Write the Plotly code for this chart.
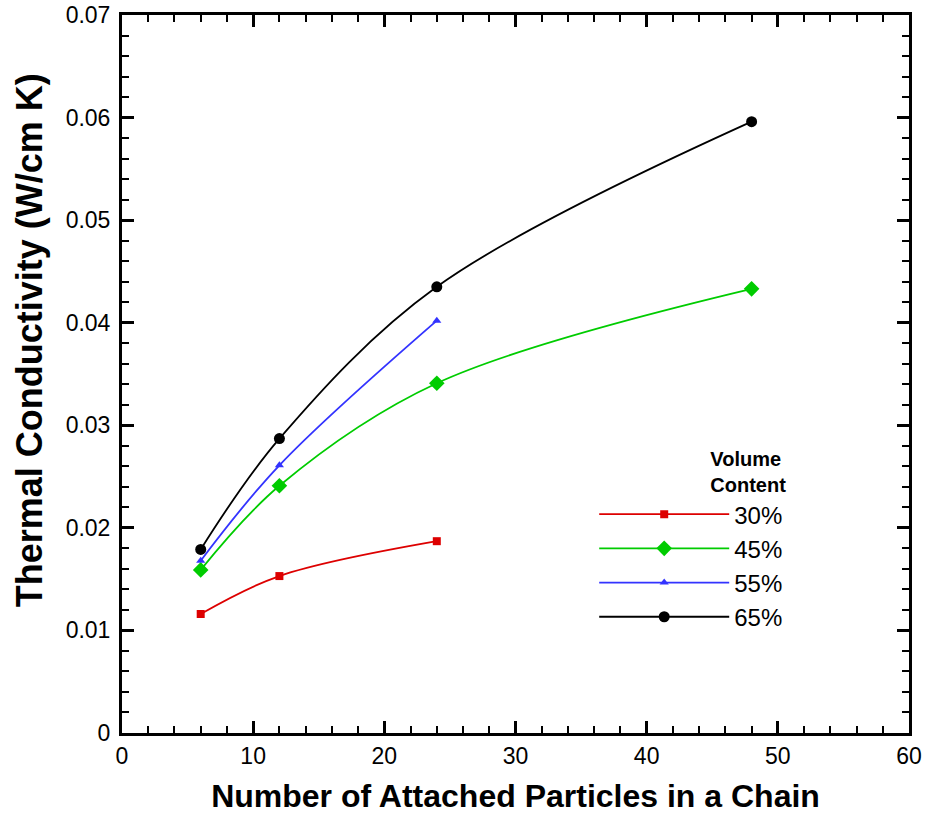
import plotly.graph_objects as go

x_30 = [6, 12, 24]
y_30 = [0.0116, 0.0153, 0.0187]
x_45 = [6, 12, 24, 48]
y_45 = [0.0159, 0.0241, 0.0341, 0.0433]
x_55 = [6, 12, 24]
y_55 = [0.0168, 0.0261, 0.0402]
x_65 = [6, 12, 24, 48]
y_65 = [0.0179, 0.0287, 0.0435, 0.0596]

series = [
    ("30%", x_30, y_30, "#dd0000", "square", 8),
    ("45%", x_45, y_45, "#00cc00", "diamond", 12),
    ("55%", x_55, y_55, "#3333ff", "triangle-up", 8),
    ("65%", x_65, y_65, "#000000", "circle", 11),
]

fig = go.Figure()
for name, xs, ys, col, sym, sz in series:
    fig.add_trace(go.Scatter(
        x=xs, y=ys, name=name, mode="lines+markers",
        line=dict(color=col, width=1.8, shape="spline", smoothing=1.0),
        marker=dict(symbol=sym, size=sz, color=col),
    ))

font = "Liberation Sans, Arial, sans-serif"
axis_common = dict(
    showline=True, linecolor="black", linewidth=3, mirror="ticks",
    ticks="inside", ticklen=12, tickwidth=3, tickcolor="black",
    showgrid=False, zeroline=False, automargin=False,
    tickfont=dict(family=font, size=23, color="black"),
)
fig.update_xaxes(
    range=[0, 60], dtick=10,
    minor=dict(dtick=2, ticks="inside", ticklen=7, tickwidth=1.5, tickcolor="black", showgrid=False),
    title=dict(text="<b>Number of Attached Particles in a Chain</b>",
               font=dict(family=font, size=32, color="black"), standoff=18),
    **axis_common,
)
fig.update_yaxes(
    range=[0, 0.07], dtick=0.01,
    minor=dict(dtick=0.002, ticks="inside", ticklen=7, tickwidth=1.5, tickcolor="black", showgrid=False),
    ticklabelstandoff=4,
    **axis_common,
)
fig.add_annotation(
    text="<b>Thermal Conductivity (W/cm K)</b>", textangle=-90,
    xref="paper", yref="paper", x=0, y=0.547, xanchor="center", yanchor="middle",
    xshift=-93, showarrow=False,
    font=dict(family=font, size=36, color="black"),
)
fig.update_layout(
    width=925, height=819,
    margin=dict(l=122, r=16, t=15, b=86),
    paper_bgcolor="white", plot_bgcolor="white",
    font=dict(family=font, color="black"),
    legend=dict(
        x=0.60, y=0.408, xanchor="left", yanchor="top",
        bgcolor="rgba(0,0,0,0)",
        title=dict(text="<b>Volume<br>Content</b>", side="top right",
                   font=dict(family=font, size=20, color="black")),
        font=dict(family=font, size=24, color="black"),
        itemwidth=130,
    ),
)
fig.write_html("out.html")
